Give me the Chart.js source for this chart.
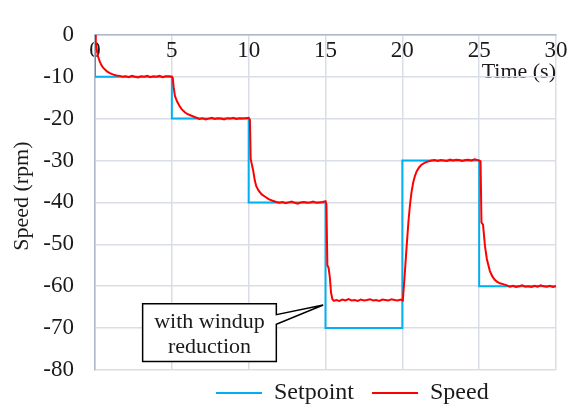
<!DOCTYPE html>
<html>
<head>
<meta charset="utf-8">
<script src="https://cdn.jsdelivr.net/npm/chart.js@4.4.1/dist/chart.umd.min.js"></script>
<style>
  html, body { margin: 0; padding: 0; background: #ffffff; }
  #wrap { width: 571px; height: 410px; }
</style>
</head>
<body>
<div id="wrap"><canvas id="speedChart" width="571" height="410"></canvas></div>
<script>
// Measured motor speed (rpm) against time (s)
const timeS = [
  0, 0.05, 0.1, 0.2, 0.3, 0.4, 0.5, 0.65, 0.8, 1.0, 1.2, 1.4, 1.6, 1.8, 2.0, 2.2, 2.4, 2.6, 2.8, 3.0,
  3.2, 3.4, 3.6, 3.8, 4.0, 4.2, 4.4, 4.6, 4.8, 5.0,
  5.06, 5.12, 5.2, 5.35, 5.5, 5.65, 5.85, 6.0, 6.2, 6.4, 6.6, 6.8, 7.0, 7.2, 7.4, 7.6, 7.8, 8.0,
  8.2, 8.4, 8.6, 8.8, 9.0, 9.2, 9.4, 9.6, 9.8, 10.0,
  10.08, 10.13, 10.2, 10.3, 10.4, 10.5, 10.65, 10.85, 11.05, 11.3, 11.55, 11.8, 12.0, 12.2, 12.4,
  12.6, 12.8, 13.0, 13.2, 13.4, 13.6, 13.8, 14.0, 14.2, 14.4, 14.6, 14.8, 15.0,
  15.06, 15.12, 15.2, 15.28, 15.36, 15.45, 15.55, 15.7, 15.9, 16.1, 16.3, 16.5, 16.7, 16.9, 17.1,
  17.3, 17.5, 17.7, 17.9, 18.1, 18.3, 18.5, 18.7, 18.9, 19.1, 19.3, 19.5, 19.7, 19.9, 20.0,
  20.04, 20.15, 20.28, 20.4, 20.5, 20.6, 20.71, 20.82, 20.93, 21.1, 21.25, 21.47, 21.7, 21.9, 22.1,
  22.3, 22.5, 22.7, 22.9, 23.1, 23.3, 23.5, 23.7, 23.9, 24.1, 24.3, 24.5, 24.7, 24.9, 25.05,
  25.09, 25.15, 25.25, 25.38, 25.5, 25.6, 25.7, 25.85, 26.0, 26.15, 26.35, 26.55, 26.8, 27.0, 27.2,
  27.4, 27.6, 27.8, 28.0, 28.2, 28.4, 28.6, 28.8, 29.0, 29.2, 29.4, 29.6, 29.8, 30.0
];
const speedRpm = [
  0, -1.8, -3.4, -5.2, -6.3, -7.1, -7.7, -8.3, -8.8, -9.2, -9.5, -9.7, -9.8, -10.0, -9.9, -10.1, -9.8, -10.0, -10.2, -9.9,
  -10.0, -9.8, -10.1, -9.9, -10.0, -9.8, -10.1, -9.9, -9.9, -10.0,
  -10.3, -12.5, -14.6, -16.0, -17.0, -17.8, -18.5, -18.9, -19.2, -19.5, -19.8, -20.1, -19.9, -20.2, -20.0, -19.8, -20.1, -19.9,
  -20.0, -20.2, -19.9, -20.0, -19.8, -20.1, -19.9, -20.0, -19.9, -19.8,
  -20.3, -29.6, -30.8, -32.5, -34.8, -36.2, -37.2, -38.1, -38.6, -39.2, -39.6, -39.9, -40.1, -39.9, -40.2,
  -40.0, -39.8, -40.1, -40.3, -40.0, -39.9, -40.1, -40.0, -39.8, -40.1, -40.0, -39.9, -39.7,
  -40.5, -55.0, -55.6, -57.8, -61.5, -63.1, -63.5, -63.3, -63.5, -63.2, -63.4, -63.1, -63.4, -63.3, -63.5,
  -63.2, -63.4, -63.3, -63.1, -63.4, -63.3, -63.5, -63.2, -63.3, -63.4, -63.1, -63.3, -63.4, -63.2, -63.4,
  -63.0, -57.5, -50.5, -44.5, -40.5, -37.5, -35.2, -33.7, -32.6, -31.6, -31.0, -30.5, -30.2, -30.0, -29.9,
  -30.1, -29.9, -30.0, -30.1, -29.8, -30.0, -29.8, -29.9, -30.1, -29.9, -29.8, -30.0, -29.7, -29.9, -30.1,
  -30.2, -44.8, -45.3, -50.5, -53.5, -55.0, -56.4, -57.6, -58.4, -58.9, -59.3, -59.5, -59.8, -60.1, -59.9,
  -60.2, -60.0, -59.8, -60.1, -60.0, -60.2, -59.9, -60.1, -59.8, -60.0, -60.1, -59.9, -60.2, -60.0
];

// Commanded speed: each entry holds until the next time
const setpointTime = [0, 0, 5, 10, 15, 20, 25, 30];
const setpointRpm = [0, -10, -20, -40, -70, -30, -60, -60];

// Axis tick values
const timeTicks = [0, 5, 10, 15, 20, 25, 30];
const speedTicks = [0, -10, -20, -30, -40, -50, -60, -70, -80];

const seriesNames = ['Setpoint', 'Speed'];
const yAxisTitle = 'Speed (rpm)';
const calloutText = ['with windup', 'reduction'];

const serifFont = "'Liberation Serif', 'Times New Roman', serif";
const textColor = '#1a1a1a';
const gridColor = '#d9dde6';
const axisColor = '#aeb8ca';

// Place the legend row beneath the plot
const legendPlacer = {
  id: 'legendPlacer',
  afterLayout(chart) {
    const lg = chart.legend;
    const pad = lg.options.labels.padding;
    lg.left = 216 - pad;
    lg.top = 393 - pad - lg.options.labels.font.size / 2;
  }
};

// Vertical axis title, sitting a little above the middle of the axis
const yTitle = {
  id: 'yTitle',
  afterDraw(chart) {
    const { ctx, scales: { y } } = chart;
    ctx.save();
    ctx.translate(22, y.getPixelForValue(-38.5));
    ctx.rotate(-Math.PI / 2);
    ctx.fillStyle = textColor;
    ctx.font = '22px ' + serifFont;
    ctx.textAlign = 'center';
    ctx.textBaseline = 'middle';
    ctx.fillText(yAxisTitle, 0, 0);
    ctx.restore();
  }
};

// Callout box with a pointer towards the speed trace
const callout = {
  id: 'callout',
  afterDraw(chart) {
    const { ctx, scales: { x, y } } = chart;
    const left = x.getPixelForValue(3.1);
    const right = x.getPixelForValue(11.8);
    const top = y.getPixelForValue(-64.2);
    const bottom = y.getPixelForValue(-78.0);
    const notchTop = y.getPixelForValue(-66.8);
    const notchBottom = y.getPixelForValue(-69.1);
    const tipX = x.getPixelForValue(14.85);
    const tipY = y.getPixelForValue(-64.5);
    ctx.save();
    ctx.beginPath();
    ctx.moveTo(left, top);
    ctx.lineTo(right, top);
    ctx.lineTo(right, notchTop);
    ctx.lineTo(tipX, tipY);
    ctx.lineTo(right, notchBottom);
    ctx.lineTo(right, bottom);
    ctx.lineTo(left, bottom);
    ctx.closePath();
    ctx.fillStyle = '#ffffff';
    ctx.fill();
    ctx.lineWidth = 1.5;
    ctx.strokeStyle = '#000000';
    ctx.lineJoin = 'miter';
    ctx.stroke();
    ctx.fillStyle = textColor;
    ctx.font = '22px ' + serifFont;
    ctx.textAlign = 'center';
    ctx.textBaseline = 'middle';
    const cx = (left + right) / 2;
    ctx.fillText(calloutText[0], cx, top + 18);
    ctx.fillText(calloutText[1], cx, top + 43);
    ctx.restore();
  }
};

const speedPoints = timeS.map((t, i) => ({ x: t, y: speedRpm[i] }));
const setpointPoints = setpointTime.map((t, i) => ({ x: t, y: setpointRpm[i] }));

new Chart(document.getElementById('speedChart'), {
  type: 'line',
  data: {
    datasets: [
      {
        label: seriesNames[0],
        data: setpointPoints,
        stepped: 'before',
        borderColor: '#00b0f0',
        backgroundColor: '#00b0f0',
        borderWidth: 2,
        pointRadius: 0,
        order: 1
      },
      {
        label: seriesNames[1],
        data: speedPoints,
        borderColor: '#ff0000',
        backgroundColor: '#ff0000',
        borderWidth: 2,
        pointRadius: 0,
        tension: 0,
        order: 0
      }
    ]
  },
  options: {
    responsive: false,
    animation: false,
    devicePixelRatio: 1,
    layout: { padding: { top: 19, right: 15, bottom: -12, left: 0 } },
    plugins: {
      legend: {
        position: 'bottom',
        align: 'start',
        labels: {
          boxWidth: 46,
          boxHeight: 0,
          padding: 18,
          color: textColor,
          font: { family: serifFont, size: 24 },
          sort: (a, b) => a.datasetIndex - b.datasetIndex
        }
      },
      tooltip: { enabled: false }
    },
    scales: {
      x: {
        type: 'linear',
        position: { y: 0 },
        min: 0,
        max: 30,
        afterBuildTicks: (s) => { s.ticks = timeTicks.map(v => ({ value: v })); },
        grid: { color: gridColor, lineWidth: 1.5, drawTicks: false },
        border: { color: axisColor, width: 1.5 },
        ticks: { color: textColor, font: { family: serifFont, size: 23 }, padding: 2, maxRotation: 0, autoSkip: false },
        title: {
          display: true, text: 'Time (s)', align: 'end', color: textColor,
          font: { family: serifFont, size: 22 }, padding: { top: -7, bottom: 0 }
        }
      },
      y: {
        min: -80,
        max: 0,
        afterBuildTicks: (s) => { s.ticks = speedTicks.map(v => ({ value: v })); },
        afterFit: (s) => { s.width = 95; },
        grid: { color: gridColor, lineWidth: 1.5, drawTicks: false },
        border: { color: axisColor, width: 1.5 },
        ticks: { color: textColor, font: { family: serifFont, size: 23 }, padding: 21 },
        title: { display: false }
      }
    }
  },
  plugins: [legendPlacer, yTitle, callout]
});
</script>
</body>
</html>
